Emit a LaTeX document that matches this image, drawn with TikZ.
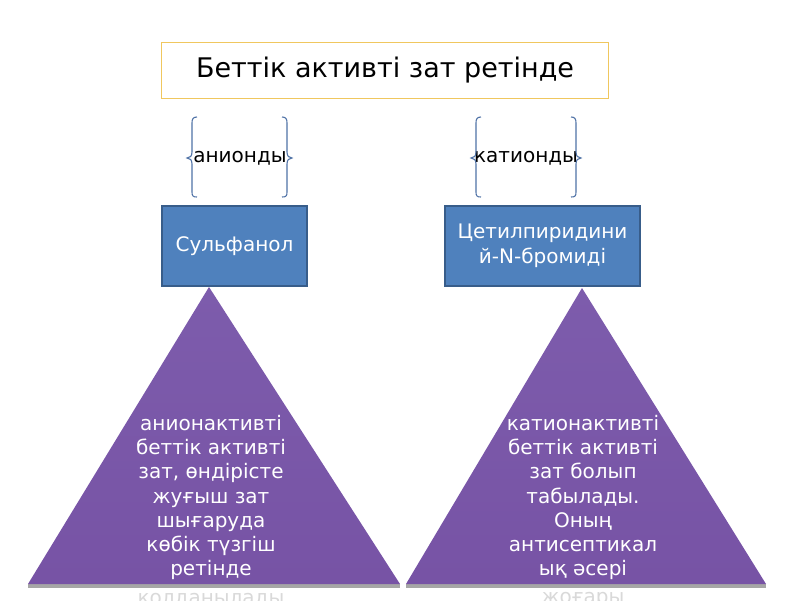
\documentclass[tikz,border=0pt]{standalone}
\usepackage{fontspec}
\setmainfont{DejaVu Sans}
\definecolor{boxfill}{HTML}{4F81BD}
\definecolor{boxline}{HTML}{385D8A}
\definecolor{titleline}{HTML}{F0C75E}
\definecolor{bracecol}{HTML}{4F72A6}
\definecolor{triTop}{HTML}{7D5CAC}
\definecolor{triMid}{HTML}{54407D}
\definecolor{triBot}{HTML}{7753A5}
\definecolor{shadowgray}{HTML}{A6A6A6}
\tikzset{
  titlebox/.style={draw=titleline, line width=0.8pt, fill=white, minimum width=447pt, minimum height=56pt, inner sep=0pt, font=\fontsize{27}{32}\selectfont},
  bluebox/.style={draw=boxline, line width=1.2pt, fill=boxfill, text=white, inner sep=0pt, font=\fontsize{20}{25}\selectfont, align=center},
  bracetext/.style={inner sep=0pt, font=\fontsize{20}{24}\selectfont},
  bracket/.style={draw=bracecol, line width=1.1pt},
  tritext/.style={text=white, align=center, inner sep=0pt, font=\fontsize{20}{24.2}\selectfont},
  overflow/.style={text=gray!30, align=center, inner sep=0pt, font=\fontsize{20}{24.2}\selectfont},
}
\begin{document}
\begin{tikzpicture}[x=1pt,y=-1pt]
\useasboundingbox (0,0) rectangle (800,600);
\clip (0,0) rectangle (800,600);
% title
\node[titlebox] (title) at (385,70) {Беттік активті зат ретінде};
% brace labels
\node[bracetext] (an) at (240,158) {анионды};
\node[bracetext] (kat) at (526,158) {катионды};
% braces left pair
\draw[bracket] (197,117) .. controls (193,117) and (192,119) .. (192,123) -- (192,152) .. controls (192,156) and (190,158) .. (187,158) .. controls (190,158) and (192,160) .. (192,164) -- (192,192) .. controls (192,196) and (193,197) .. (197,197);
\draw[bracket] (282,117) .. controls (286,117) and (287,119) .. (287,123) -- (287,152) .. controls (287,156) and (289,158) .. (292,158) .. controls (289,158) and (287,160) .. (287,164) -- (287,192) .. controls (287,196) and (286,197) .. (282,197);
% braces right pair
\draw[bracket] (481,117) .. controls (477,117) and (476,119) .. (476,123) -- (476,152) .. controls (476,156) and (474,158) .. (471,158) .. controls (474,158) and (476,160) .. (476,164) -- (476,192) .. controls (476,196) and (477,197) .. (481,197);
\draw[bracket] (571,117) .. controls (575,117) and (576,119) .. (576,123) -- (576,152) .. controls (576,156) and (578,158) .. (581,158) .. controls (578,158) and (576,160) .. (576,164) -- (576,192) .. controls (576,196) and (575,197) .. (571,197);
% blue boxes
\node[bluebox, minimum width=145pt, minimum height=80pt] (sulf) at (234.5,246) {Сульфанол};
\node[bluebox, minimum width=195pt, minimum height=80pt] (cet) at (542.5,246) {Цетилпиридини\\й-N-бромиді};
% triangles
\coordinate (LA) at (209,287);
\coordinate (LL) at (28,584);
\coordinate (LR) at (400,584);
\coordinate (RA) at (582,288);
\coordinate (RL) at (406,584);
\coordinate (RR) at (766,584);
\fill[shadowgray] (28,584) rectangle (400,588);
\fill[shadowgray] (406,584) rectangle (766,588);
\shade[top color=triTop, middle color=triMid, bottom color=triBot] (LA) -- (LL) -- (LR) -- cycle;
\shade[top color=triTop, middle color=triMid, bottom color=triBot] (RA) -- (RL) -- (RR) -- cycle;
% triangle text
\node[tritext, anchor=north] (ltext) at (211,415) {анионактивті\\ беттік активті\\зат, өндірісте\\жуғыш зат\\шығаруда \\ көбік түзгіш\\ретінде};
\node[tritext, anchor=north] (rtext) at (583,415) {катионактивті\\беттік активті\\зат болып\\табылады.\\Оның\\антисептикал\\ық әсері};
\node[overflow] (lover) at (211,600) {қолданылады};
\node[overflow] (rover) at (583,600) {жоғары};
\end{tikzpicture}
\end{document}
